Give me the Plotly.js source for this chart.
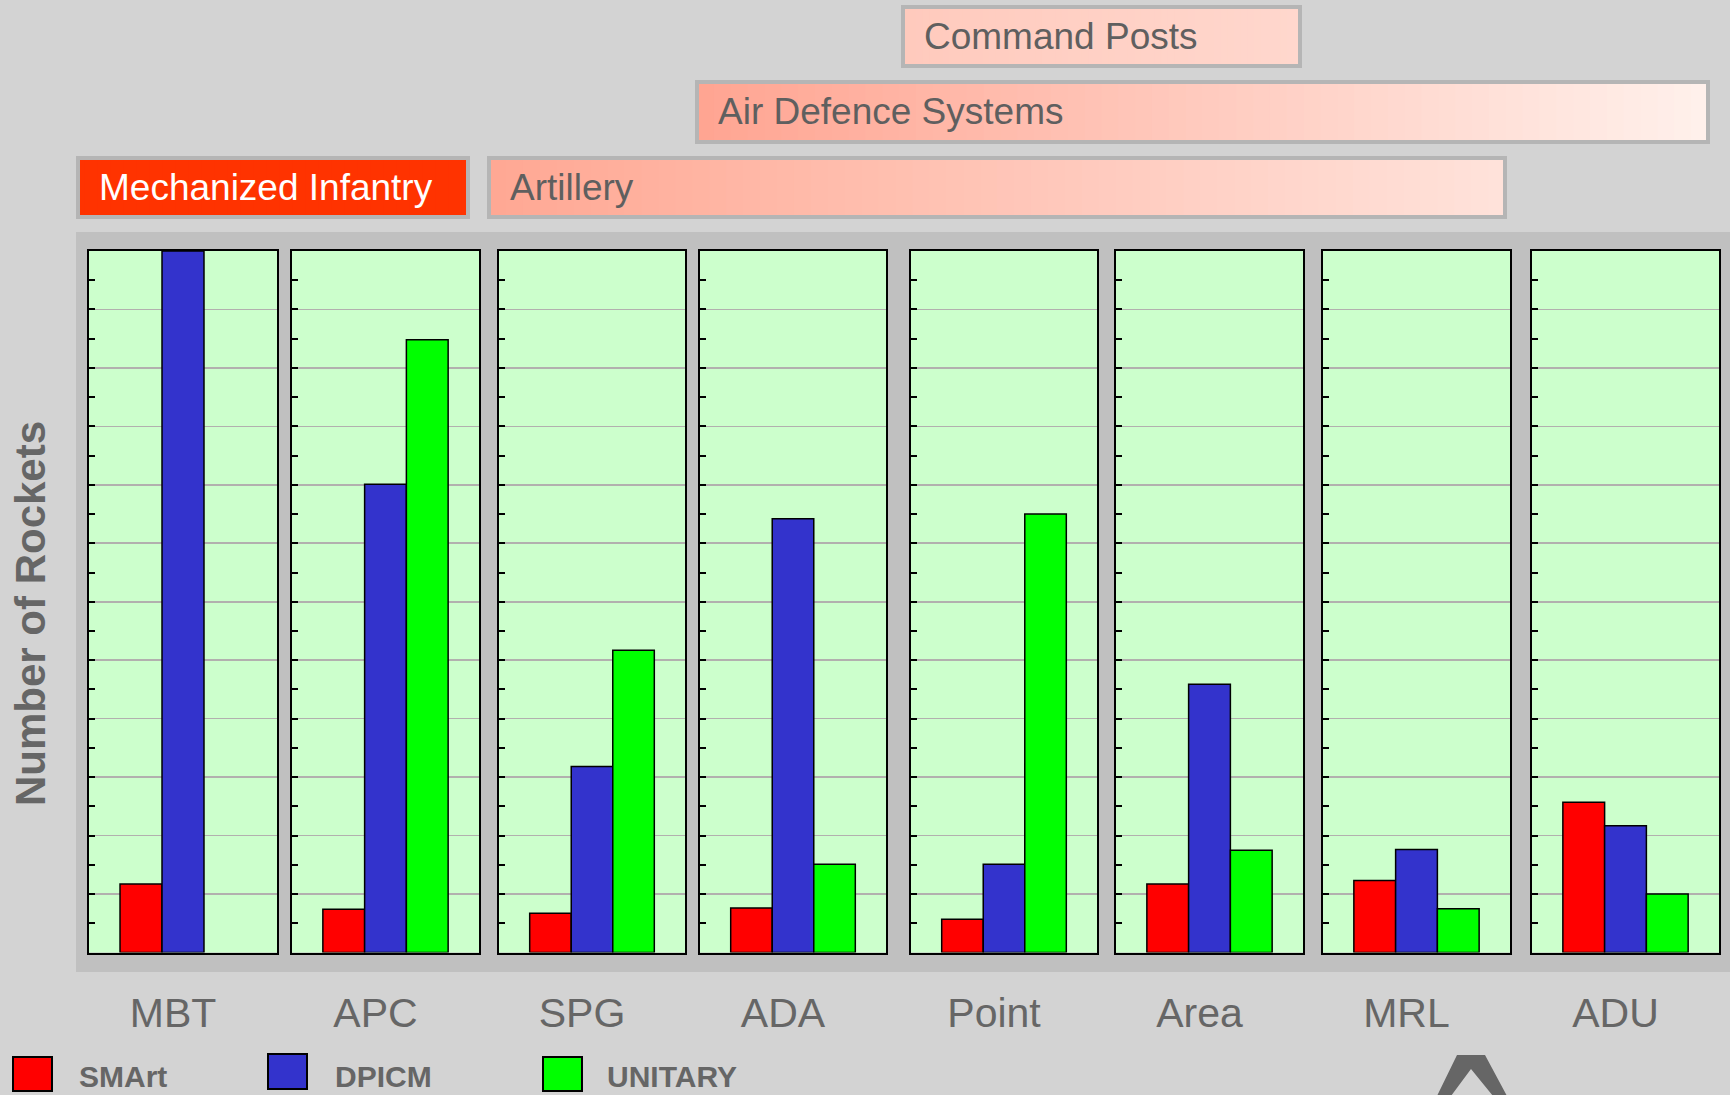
<!DOCTYPE html>
<html><head><meta charset="utf-8">
<script src="https://cdn.plot.ly/plotly-3.0.1.min.js"></script>
<style>html,body{margin:0;padding:0;background:#d3d3d3;overflow:hidden;} #chart{width:1730px;height:1095px;}</style>
</head><body><div id="chart"></div>
<script>
// ---- data ----
const categories = ['MBT','APC','SPG','ADA','Point','Area','MRL','ADU'];
const seriesNames = ['SMArt','DPICM','UNITARY'];
const smart   = [1.17, 0.74, 0.67, 0.76, 0.57, 1.17, 1.23, 2.57];
const dpicm   = [12.0, 8.01, 3.18, 7.42, 1.51, 4.59, 1.76, 2.17];
const unitary = [null, 10.48, 5.17, 1.51, 7.50, 1.75, 0.75, 1.00];
const bannerLabels = ['Command Posts','Air Defence Systems','Mechanized Infantry','Artillery'];
const yAxisTitle = 'Number of Rockets';

// ---- style / layout config ----
const W = 1730, H = 1095;
const px = x => x / W;
const py = y => 1 - y / H;
const FONT = 'Liberation Sans, Arial, Helvetica, sans-serif';
const seriesColors = ['#ff0000', '#3333cc', '#00ff00'];
const seriesData = [smart, dpicm, unitary];
const panelEdges = [[89,277],[292,479],[499,685],[700,886],[911,1097],[1116,1303],[1323,1510],[1532,1719]];
const panelTop = 251, panelBottom = 952.5;

const traces = [];
const layout = {
  width: W, height: H,
  margin: {l:0, r:0, t:0, b:0},
  paper_bgcolor: '#d3d3d3',
  plot_bgcolor: 'rgba(0,0,0,0)',
  showlegend: false,
  barmode: 'group',
  bargap: 0.33,
  bargroupgap: 0,
  shapes: [],
  annotations: []
};

// gray chart-area background behind panels
layout.shapes.push({type:'rect', xref:'paper', yref:'paper', layer:'below',
  x0: px(76), x1: px(1730), y0: py(972), y1: py(232),
  fillcolor:'#c0c0c0', line:{width:0}});

categories.forEach((cat, i) => {
  const n = i + 1;
  const xk = n === 1 ? 'xaxis' : 'xaxis' + n;
  const yk = n === 1 ? 'yaxis' : 'yaxis' + n;
  const xr = n === 1 ? 'x' : 'x' + n;
  const yr = n === 1 ? 'y' : 'y' + n;
  seriesNames.forEach((s, k) => {
    traces.push({
      type: 'bar', name: s, x: [cat], y: [seriesData[k][i]],
      xaxis: xr, yaxis: yr,
      marker: {color: seriesColors[k], line: {color: '#000', width: 1.5}},
      hoverinfo: 'skip'
    });
  });
  // green panel background
  layout.shapes.push({type:'rect', xref: xr + ' domain', yref: yr + ' domain', layer:'below',
    x0: 0, x1: 1, y0: 0, y1: 1, fillcolor:'#ccffcc', line:{width:0}});
  layout[xk] = {
    domain: [px(panelEdges[i][0]), px(panelEdges[i][1])],
    anchor: yr, type: 'category',
    showline: true, mirror: true, linecolor: '#000', linewidth: 2,
    ticks: '', showgrid: false, zeroline: false,
    tickfont: {family: FONT, size: 41, color: '#666666'},
    ticklabelstandoff: 23, ticklabelshift: -10,
    fixedrange: true
  };
  layout[yk] = {
    domain: [py(panelBottom), py(panelTop)],
    anchor: xr, range: [0, 12], dtick: 1,
    showline: true, mirror: true, linecolor: '#000', linewidth: 2,
    ticks: 'inside', ticklen: 6, tickwidth: 2, tickcolor: '#000',
    showticklabels: false,
    showgrid: true, gridcolor: '#b2b0ae', gridwidth: 1.6,
    zeroline: false,
    minor: {dtick: 0.5, ticks: 'inside', ticklen: 6, tickwidth: 2, tickcolor: '#000', showgrid: false},
    fixedrange: true
  };
});

// banners
function hex(c){return [parseInt(c.slice(1,3),16),parseInt(c.slice(3,5),16),parseInt(c.slice(5,7),16)];}
function mix(a,b,t){const A=hex(a),B=hex(b);return 'rgb('+A.map((v,j)=>Math.round(v+(B[j]-v)*t)).join(',')+')';}
function banner(x0,x1,y0,y1,c0,c1,label,textColor){
  const n = 60, w = (x1-x0)/n;
  for(let j=0;j<n;j++){
    layout.shapes.push({type:'rect', xref:'paper', yref:'paper', layer:'above',
      x0: px(x0 + j*w), x1: px(Math.min(x1, x0 + (j+1)*w + 1)), y0: py(y1), y1: py(y0),
      fillcolor: mix(c0,c1,j/(n-1)), line:{width:0}});
  }
  layout.shapes.push({type:'rect', xref:'paper', yref:'paper', layer:'above',
    x0: px(x0), x1: px(x1), y0: py(y1), y1: py(y0),
    fillcolor:'rgba(0,0,0,0)', line:{color:'#b5b5b5', width:4}});
  layout.annotations.push({xref:'paper', yref:'paper', x: px(x0+19), y: py((y0+y1)/2),
    xanchor:'left', yanchor:'middle', showarrow:false, text: label,
    font:{family: FONT, size: 37, color: textColor}});
}
banner(903, 1300, 7, 66, '#ffcabd', '#ffd7cd', bannerLabels[0], '#5f5f5f');
banner(697, 1708, 82, 142, '#ffa592', '#fff0eb', bannerLabels[1], '#5f5f5f');
banner(78, 468, 158, 217, '#ff3300', '#ff3300', bannerLabels[2], '#ffffff');
banner(489, 1505, 158, 217, '#ffa894', '#ffe2da', bannerLabels[3], '#5f5f5f');

// y axis title
layout.annotations.push({xref:'paper', yref:'paper', x: px(30), y: py(614),
  xanchor:'center', yanchor:'middle', showarrow:false, textangle:-90,
  text: '<b>' + yAxisTitle + '</b>', font:{family: FONT, size: 42, color:'#666666'}});

// custom legend
const legendBoxes = [[13,52,1057,1091],[268,307,1054,1089],[543,582,1057,1091]];
const legendTextX = [77, 333, 605];
seriesNames.forEach((s,k)=>{
  const b = legendBoxes[k];
  layout.shapes.push({type:'rect', xref:'paper', yref:'paper', layer:'above',
    x0: px(b[0]), x1: px(b[1]), y0: py(b[3]), y1: py(b[2]),
    fillcolor: seriesColors[k], line:{color:'#000', width:2}});
  layout.annotations.push({xref:'paper', yref:'paper', x: px(legendTextX[k]), y: py(1076),
    xanchor:'left', yanchor:'middle', showarrow:false, text:'<b>'+s+'</b>',
    font:{family: FONT, size: 30, color:'#666666'}});
});

// partial chevron glyph at bottom
layout.shapes.push({type:'path', xref:'paper', yref:'paper', layer:'above',
  path: 'M '+px(1437)+' '+py(1096)+' L '+px(1457)+' '+py(1055)+' L '+px(1485)+' '+py(1055)+' L '+px(1507)+' '+py(1096)+
        ' L '+px(1493)+' '+py(1096)+' L '+px(1471)+' '+py(1069)+' L '+px(1451)+' '+py(1096)+' Z',
  fillcolor:'#666666', line:{width:0}});

Plotly.newPlot('chart', traces, layout, {displayModeBar:false, staticPlot:true});
</script>
</body></html>
